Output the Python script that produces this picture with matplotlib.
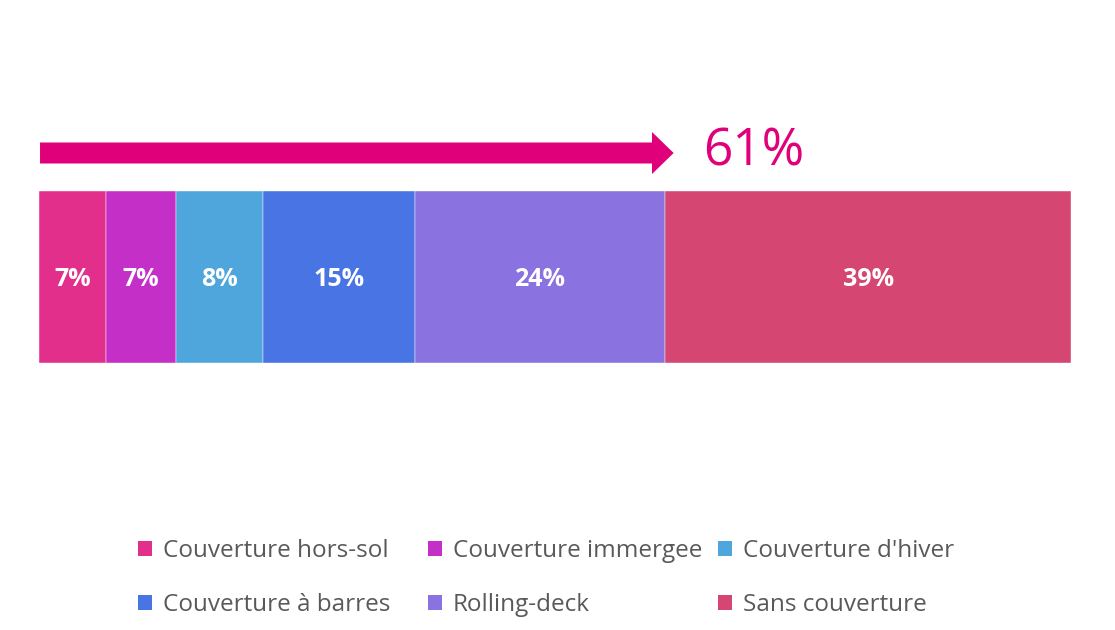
import matplotlib.pyplot as plt
from matplotlib.patches import Patch, FancyArrow

plt.rcParams['font.family'] = ['Open Sans', 'DejaVu Sans']

categories = ['Couverture hors-sol', 'Couverture immergee', "Couverture d'hiver",
              'Couverture à barres', 'Rolling-deck', 'Sans couverture']
values = [6.5, 6.8, 8.4, 14.7, 24.3, 39.3]
labels = ['7%', '7%', '8%', '15%', '24%', '39%']
colors = ['#E22F8C', '#C42FC8', '#4FA6DC', '#4874E4', '#8A72E0', '#D54772']
covered_share = 61
covered_label = '61%'

W, H = 1115, 630
fig = plt.figure(figsize=(W / 100, H / 100), dpi=100)
ax = fig.add_axes([39 / W, 0, 1032 / W, 1])
ax.set_xlim(0, 100)
ax.set_ylim(H, 0)  # pixel-like vertical units
ax.axis('off')

left = 0
for v, lab, c in zip(values, labels, colors):
    ax.barh(277, v, left=left, height=172, color=c, edgecolor='white', linewidth=0.3)
    ax.text(left + v / 2, 279, lab, ha='center', va='center', color='white',
            fontsize=18, fontweight='bold')
    left += v

# arrow for covered share
ax.add_patch(FancyArrow(0.1, 153, covered_share + 0.5 - 0.1 - 2.1, 0, width=21,
                        head_width=42, head_length=2.1, length_includes_head=False,
                        color='#E0007A', linewidth=0))
ax.text(64.4, 152, covered_label, ha='left', va='center', color='#E0007A',
        fontsize=37)

# legend: 3 columns, filled row by row
handles = [Patch(facecolor=c, edgecolor='none') for c in colors]
col_x = [138, 428, 718]
for i, x in enumerate(col_x):
    leg = fig.legend([handles[i], handles[i + 3]], [categories[i], categories[i + 3]],
                     loc='upper left', bbox_to_anchor=(x / W, 1 - 539 / H),
                     frameon=False, fontsize=17.5, labelcolor='#595959',
                     handlelength=0.56, handleheight=0.56, handletextpad=0.45,
                     labelspacing=1.25, borderpad=0, borderaxespad=0)

fig.savefig('out.png', dpi=100)
